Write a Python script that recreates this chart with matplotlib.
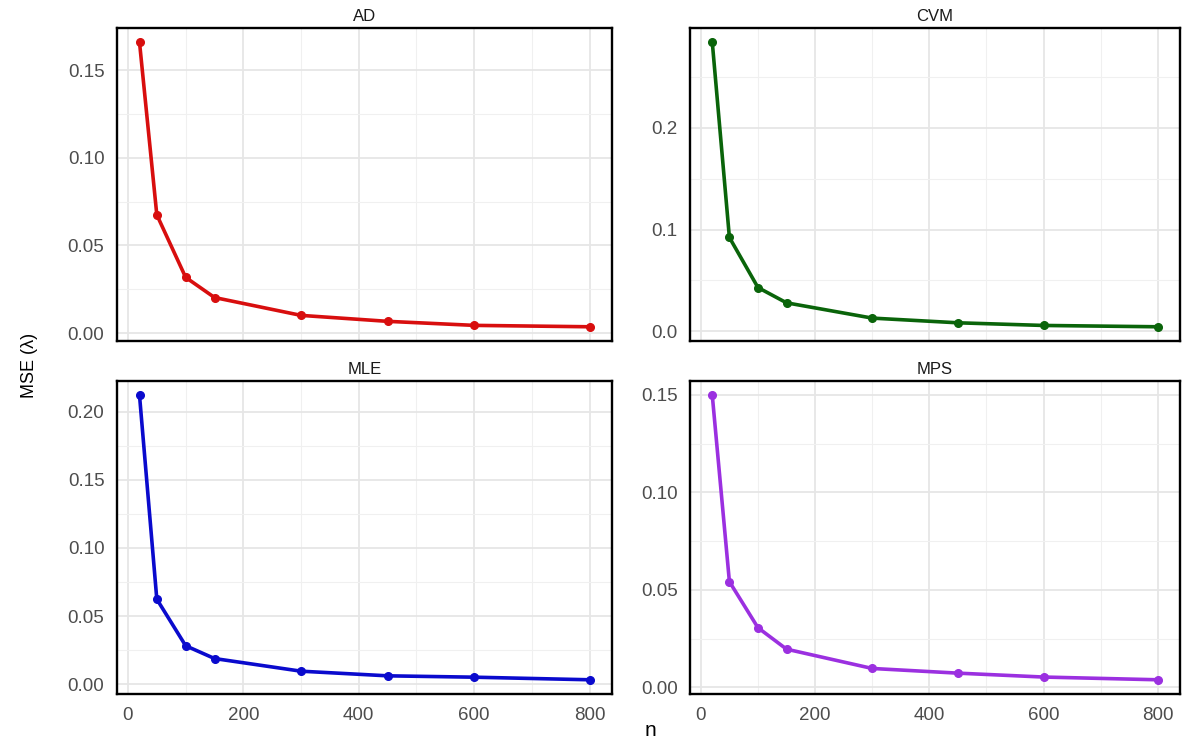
import numpy as np
import matplotlib
matplotlib.use('Agg')
import matplotlib.pyplot as plt
from matplotlib.ticker import MultipleLocator, FormatStrFormatter

matplotlib.rcParams['font.family'] = ['Liberation Sans', 'DejaVu Sans']

n = [20, 50, 100, 150, 300, 450, 600, 800]
mse_ad = [0.166, 0.0675, 0.0318, 0.0203, 0.0101, 0.0067, 0.0044, 0.0036]
mse_cvm = [0.2837, 0.0922, 0.0431, 0.0281, 0.0131, 0.0085, 0.0059, 0.0046]
mse_mle = [0.2122, 0.0624, 0.0282, 0.0188, 0.0095, 0.0061, 0.0051, 0.0032]
mse_mps = [0.1498, 0.0542, 0.0306, 0.0196, 0.0097, 0.0073, 0.0053, 0.0039]

# title, values, colour, y step, panel box in pixels (left, top, right, bottom)
panels = [
    ('AD', mse_ad, '#D80E0E', 0.05, [117, 28, 612, 341]),
    ('CVM', mse_cvm, '#0A640A', 0.1, [690, 28, 1180, 341]),
    ('MLE', mse_mle, '#0A0ACD', 0.05, [117, 381, 612, 694]),
    ('MPS', mse_mps, '#9B30E0', 0.05, [690, 381, 1180, 694]),
]

W, H = 1188, 744
fig = plt.figure(figsize=(W / 100, H / 100), dpi=100)

for title, vals, color, ystep, (x0, y0, x1, y1) in panels:
    ax = fig.add_axes([x0 / W, 1 - y1 / H, (x1 - x0) / W, (y1 - y0) / H])
    ax.plot(n, vals, color=color, lw=2.6, marker='o', markersize=5.5, zorder=3)
    ax.set_xlim(-19, 839)
    ax.xaxis.set_major_locator(MultipleLocator(200))
    ax.xaxis.set_minor_locator(MultipleLocator(100))
    ax.yaxis.set_major_locator(MultipleLocator(ystep))
    ax.yaxis.set_minor_locator(MultipleLocator(ystep / 2))
    ax.grid(which='major', color='#E6E6E6', lw=1.3)
    ax.grid(which='minor', color='#F0F0F0', lw=0.8)
    ax.set_axisbelow(True)
    ax.tick_params(which='both', length=0, labelsize=13.5, labelcolor='#4D4D4D', pad=9)
    fmt = '%.1f' if ystep == 0.1 else '%.2f'
    ax.yaxis.set_major_formatter(FormatStrFormatter(fmt))
    for s in ax.spines.values():
        s.set_color('black')
        s.set_linewidth(1.7)
    if y0 < 100:
        ax.set_xticklabels([])
    ax.set_title(title, fontsize=12, color='#1A1A1A', pad=5)

fig.text(30 / W, 1 - 365 / H, 'MSE (λ)', rotation=90, ha='center', va='center', fontsize=13)
fig.text(650 / W, 1 - 731 / H, 'n', ha='center', va='center', fontsize=15)

fig.savefig('out.png', dpi=100)
